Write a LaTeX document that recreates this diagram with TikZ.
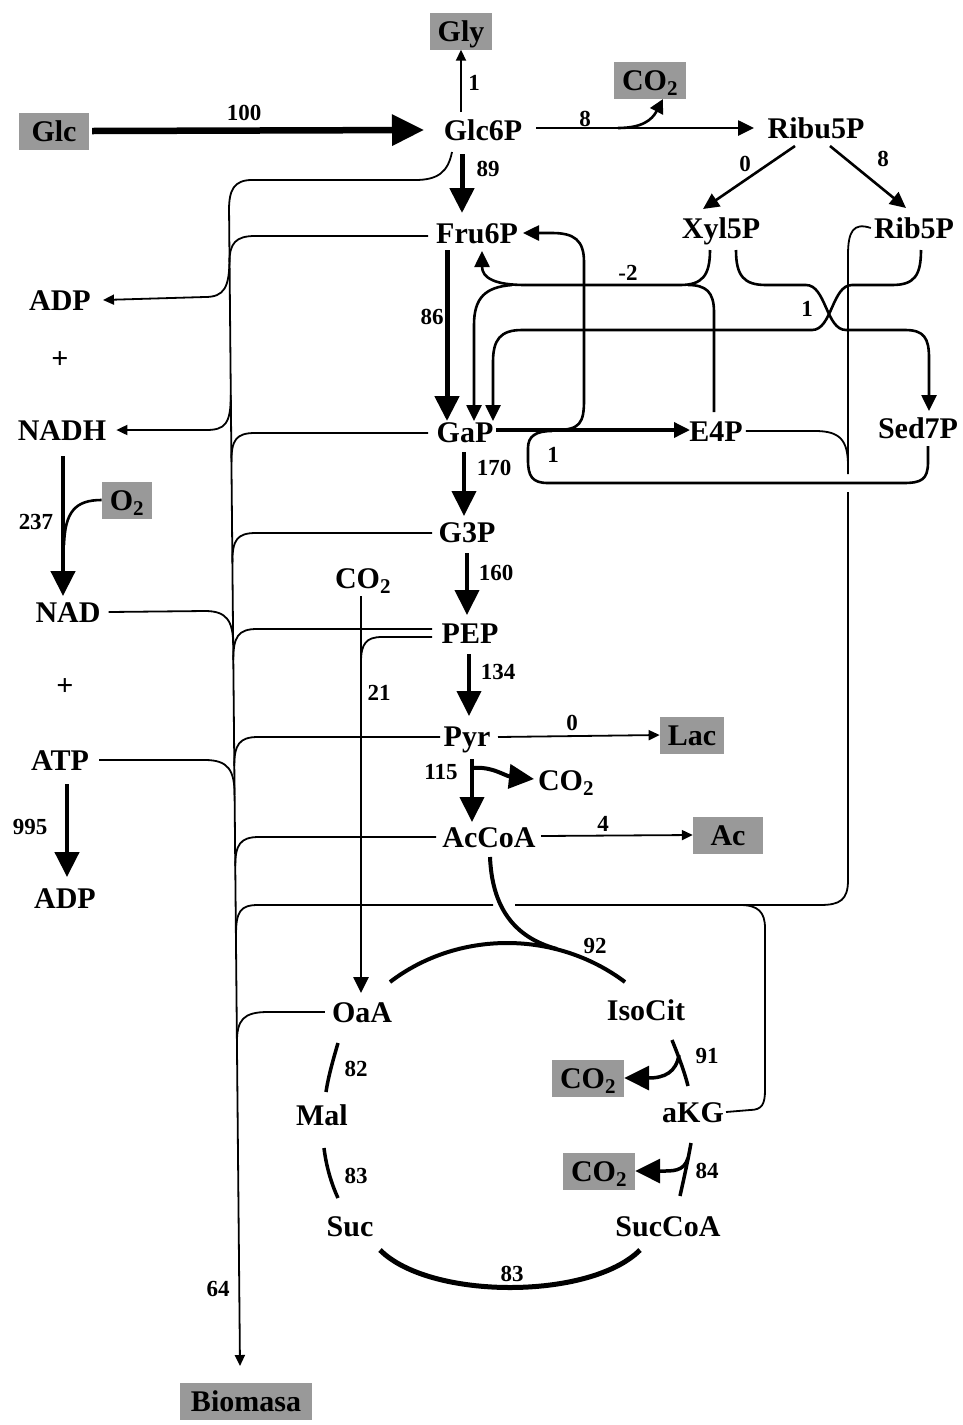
\documentclass[tikz,border=0pt]{standalone}
\usepackage{fontspec}
\setmainfont{Liberation Serif}
\usetikzlibrary{arrows.meta}
\begin{document}
\begin{tikzpicture}[x=1pt,y=-1pt,
  lab/.style={font=\fontsize{30}{31}\selectfont\bfseries, inner sep=0pt, text height=21pt, text depth=0pt},
  num/.style={font=\fontsize{23}{24}\selectfont\bfseries, inner sep=0pt, text height=16pt, text depth=0pt},
  gbox/.style={lab, fill=black!40, inner xsep=8pt, inner ysep=8pt},
  thinl/.style={line width=1.8pt},
  med/.style={line width=2.6pt},
  tipS/.style={-{Triangle[length=11pt,width=10pt]}},
  tipM/.style={-{Triangle[length=16pt,width=15pt]}},
  tipL/.style={-{Triangle[length=25pt,width=24pt]}},
  tipXL/.style={-{Triangle[length=32pt,width=30pt]}},
]
\useasboundingbox (0,0) rectangle (963,1425);
% ---------- nodes ----------
\node[gbox] (gly) at (461,31) {Gly};
\node[gbox,minimum width=70pt] (glc) at (54,131) {Glc};
\node[lab] (glc6p) at (483,130) {Glc6P};
\node[gbox] (co2a) at (650,80) {CO\textsubscript{2}};
\node[lab] (ribu5p) at (816,128) {Ribu5P};
\node[lab] (fru6p) at (477,233) {Fru6P};
\node[lab] (xyl5p) at (721,228) {Xyl5P};
\node[lab] (rib5p) at (914,228) {Rib5P};
\node[lab] (adp1) at (60,300) {ADP};
\node[lab] (plus1) at (60,358) {+};
\node[lab] (nadh) at (62,430) {NADH};
\node[gbox] (o2) at (127,500) {O\textsubscript{2}};
\node[lab] (nad) at (68,612) {NAD};
\node[lab] (plus2) at (65,685) {+};
\node[lab] (atp) at (60,760) {ATP};
\node[lab] (adp2) at (65,898) {ADP};
\node[lab] (gap) at (465,432) {GaP};
\node[lab] (e4p) at (716,431) {E4P};
\node[lab] (sed7p) at (918,428) {Sed7P};
\node[lab] (g3p) at (467,532) {G3P};
\node[lab] (co2b) at (363,578) {CO\textsubscript{2}};
\node[lab] (pep) at (470,633) {PEP};
\node[lab] (pyr) at (467,736) {Pyr};
\node[gbox] (lac) at (692,735) {Lac};
\node[lab] (co2c) at (566,780) {CO\textsubscript{2}};
\node[lab] (accoa) at (489,837) {AcCoA};
\node[gbox,minimum width=70pt] (ac) at (728,835) {Ac};
\node[lab] (oaa) at (362,1012) {OaA};
\node[lab] (isocit) at (646,1010) {IsoCit};
\node[lab] (mal) at (322,1115) {Mal};
\node[lab] (akg) at (693,1112) {aKG};
\node[gbox] (co2d) at (588,1078) {CO\textsubscript{2}};
\node[gbox] (co2e) at (599,1171) {CO\textsubscript{2}};
\node[lab] (suc) at (350,1226) {Suc};
\node[lab] (succoa) at (668,1226) {SucCoA};
\node[gbox,inner xsep=11pt] (bio) at (246,1401) {Biomasa};
% ---------- numbers ----------
\node[num] (n100) at (244,112) {100};
\node[num] (n1a) at (474,82) {1};
\node[num] (n8a) at (585,118) {8};
\node[num] (n89) at (488,168) {89};
\node[num] (n0a) at (745,163) {0};
\node[num] (n8b) at (883,158) {8};
\node[num] (n86) at (432,316) {86};
\node[num] (nm2) at (628,272) {-2};
\node[num] (n1b) at (807,308) {1};
\node[num] (n1c) at (553,454) {1};
\node[num] (n170) at (494,467) {170};
\node[num] (n237) at (36,521) {237};
\node[num] (n160) at (496,572) {160};
\node[num] (n21) at (379,692) {21};
\node[num] (n134) at (498,671) {134};
\node[num] (n0b) at (572,722) {0};
\node[num] (n115) at (441,771) {115};
\node[num] (n4) at (603,823) {4};
\node[num] (n995) at (30,826) {995};
\node[num] (n92) at (595,945) {92};
\node[num] (n91) at (707,1055) {91};
\node[num] (n82) at (356,1068) {82};
\node[num] (n83a) at (356,1175) {83};
\node[num] (n84) at (707,1170) {84};
\node[num] (n83b) at (512,1273) {83};
\node[num] (n64) at (218,1288) {64};
% ---------- upper part ----------
\draw[line width=6.5pt,tipXL] ([xshift=3pt]glc.east) -- (424,130);
\draw[thinl,tipS] (461,112) -- (gly.south);
\draw[med,tipM] (536,128) -- (754,128);
\draw[med,-{Triangle[length=14pt,width=14pt]}] (618,128) .. controls (642,128) and (652,120) .. (663,99);
\draw[line width=5pt,tipL] (462,154) -- (462,213);
\draw[med,tipM] (795,146) -- (703,209);
\draw[med,tipM] (830,146) -- (906,208);
\draw[line width=5pt,tipL] (447,250) -- (447,421);
% transketolase -2
\draw[med] (710,250) .. controls (710,276) and (702,285) .. (680,285) -- (525,285);
\draw[med,tipM] (525,285) .. controls (495,285) and (482,278) .. (482,251);
\draw[med,tipM] (512,285) .. controls (485,287) and (474,298) .. (474,325) -- (474,421);
\draw[med] (714,412) -- (714,312) .. controls (714,292) and (706,285) .. (688,285);
% transketolase 1
\draw[med,tipM] (736,250) .. controls (736,276) and (744,285) .. (766,285) -- (806,285) .. controls (826,285) and (826,330) .. (846,330) -- (905,330) .. controls (924,330) and (929,338) .. (929,358) -- (929,411);
\draw[med,tipM] (921,250) .. controls (921,276) and (914,285) .. (892,285) -- (852,285) .. controls (832,285) and (832,330) .. (812,330) -- (522,330) .. controls (500,330) and (493,340) .. (493,362) -- (493,421);
% transaldolase
\draw[line width=3.5pt,tipM] (496,430) -- (690,430);
\draw[med,tipM] (556,430) .. controls (580,430) and (584,423) .. (584,400) -- (584,262) .. controls (584,240) and (574,233) .. (552,233) -- (523,233);
\draw[med] (928,446) -- (928,462) .. controls (928,480) and (921,483) .. (903,483) -- (548,483) .. controls (532,483) and (528,476) .. (528,460) -- (528,448) .. controls (528,436) and (536,431) .. (552,431);
% biomass feeders from the right
\draw[thinl] ([xshift=3pt]e4p.east) -- (815,431) .. controls (840,431) and (848,440) .. (848,466);
\draw[thinl] ([xshift=-3pt]rib5p.west) .. controls (853,222) and (848,232) .. (848,255) -- (848,474);
\draw[thinl] (848,492) -- (848,880) .. controls (848,900) and (840,905) .. (820,905) -- (515,905);
\draw[thinl] (493,905) -- (258,905) .. controls (240,905) and (236,912) .. (236,935);
\draw[thinl] ([xshift=2pt]akg.east) -- (750,1110) .. controls (762,1110) and (765,1104) .. (765,1090) -- (765,928) .. controls (765,912) and (758,905) .. (740,905);
% ---------- biomass bus ----------
\coordinate (busend) at (240,1366);
\draw[thinl,tipS] (229,205) -- (busend);
\draw[thinl] (452,152) .. controls (448,172) and (438,180) .. (415,180) -- (252,180) .. controls (234,180) and (229,190) .. (229,210);
\draw[thinl] (428,236) -- (255,236) .. controls (236,236) and (229.5,243) .. (229.5,262);
\draw[thinl,tipS] (229.5,258) .. controls (229.5,288) and (224,297) .. (205,297) -- ([xshift=12pt]adp1.east);
\draw[thinl,tipS] (230.8,395) .. controls (230.8,424) and (225,430) .. (206,430) -- ([xshift=10pt]nadh.east);
\draw[thinl] (428,433) -- (255,433) .. controls (236,433) and (231.4,440) .. (231.4,462);
\draw[thinl] (432,533) -- (256,533) .. controls (237,533) and (232.4,540) .. (232.4,562);
\draw[thinl] ([xshift=8pt]nad.east) -- (205,611) .. controls (226,611) and (233.2,620) .. (233.2,645);
\draw[thinl] (432,629) -- (257,629) .. controls (238,629) and (233.3,637) .. (233.3,660);
\draw[thinl] (432,637) -- (382,637) .. controls (366,637) and (361,644) .. (361,662);
\draw[thinl] (440,737) -- (258,737) .. controls (239,737) and (234.3,745) .. (234.3,766);
\draw[thinl] ([xshift=10pt]atp.east) -- (205,760) .. controls (228,760) and (234.6,770) .. (234.6,795);
\draw[thinl] (436,837) -- (259,837) .. controls (240,837) and (235.3,845) .. (235.3,866);
\draw[thinl] ([xshift=-7pt]oaa.west) -- (268,1012) .. controls (243,1012) and (236.9,1020) .. (236.9,1043);
% ---------- left: respiration / ATP ----------
\draw[line width=4.5pt,tipL] (63,456) -- (63,596);
\draw[med] (o2.west) .. controls (75,500) and (65,512) .. (64,545);
\draw[line width=4.5pt,tipL] (67,784) -- (67,877);
% ---------- glycolysis lower ----------
\draw[med,tipM] (361,596) -- (361,993);
\draw[line width=4pt,tipL] (464,452) -- (464,516);
\draw[line width=4pt,tipL] (467,553) -- (467,615);
\draw[line width=4pt,tipL] (469,654) -- (469,716);
\draw[line width=4pt,tipL] (472,759) -- (472,822);
\draw[line width=4pt,tipL] (472,768) .. controls (492,766) and (505,776) .. (534,779);
\draw[thinl,tipS] (498,737) -- (lac.west);
\draw[thinl,tipS] (541,836) -- (ac.west);
% ---------- TCA cycle ----------
\draw[line width=4pt] (390,982) .. controls (458,930) and (556,930) .. (625,982);
\draw[line width=4pt] (490,857) .. controls (492,905) and (512,937) .. (557,949);
\draw[line width=3.5pt] (338,1043) .. controls (333,1060) and (328,1078) .. (326,1092);
\draw[line width=3.5pt] (324,1148) .. controls (326,1165) and (331,1183) .. (338,1198);
\draw[line width=5pt] (380,1250) .. controls (430,1300) and (590,1300) .. (640,1250);
\draw[line width=3.5pt] (672,1040) .. controls (678,1055) and (684,1070) .. (688,1086);
\draw[line width=3.5pt] (691,1143) .. controls (688,1160) and (684,1178) .. (680,1196);
\draw[line width=3.5pt,tipL] (679,1055) .. controls (676,1072) and (665,1078) .. (co2d.east);
\draw[line width=3.5pt,tipL] (688,1158) .. controls (684,1172) and (672,1171) .. (co2e.east);
\end{tikzpicture}
\end{document}
